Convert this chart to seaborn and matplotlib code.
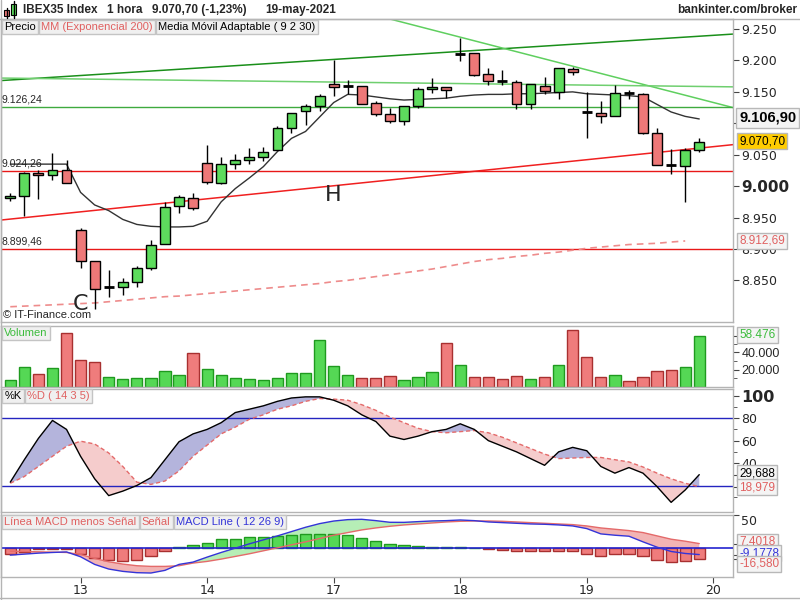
import numpy as np
import matplotlib
matplotlib.use("Agg")
import matplotlib.pyplot as plt
from matplotlib.patches import Rectangle
from matplotlib.lines import Line2D
import seaborn as sns

sns.set_style("white")
plt.rcParams['font.family'] = ['DejaVu Sans']
NARROW = ['Liberation Sans', 'DejaVu Sans']

# ---------------------------
# Data (hourly candles, 12-19 May 2021)
# ---------------------------
day_labels = ["13", "14", "17", "18", "19", "20"]
day_start = [5, 14, 23, 32, 41, 50]

opens = [8981, 8984, 9021, 9017, 9025,
         8930, 8881, 8839, 8840, 8847, 8869, 8908, 8968, 8981,
         9036, 9005, 9035, 9041, 9046, 9057, 9092, 9119, 9127,
         9163, 9159, 9160, 9133, 9115, 9104, 9128, 9155, 9158,
         9210, 9212, 9179, 9166, 9165, 9130, 9160, 9150, 9187,
         9119, 9117, 9111, 9149, 9147, 9084, 9034, 9032, 9057]
highs = [8989, 9022, 9025, 9052, 9041,
         8934, 8881, 8866, 8853, 8873, 8915, 8975, 8986, 8989,
         9066, 9046, 9051, 9060, 9062, 9095, 9117, 9130, 9147,
         9201, 9169, 9160, 9136, 9125, 9128, 9158, 9172, 9158,
         9236, 9212, 9188, 9185, 9169, 9163, 9174, 9188, 9190,
         9150, 9136, 9161, 9153, 9148, 9093, 9059, 9060, 9076]
lows = [8976, 8953, 8979, 9010, 9005,
        8870, 8804, 8824, 8826, 8839, 8867, 8908, 8957, 8962,
        9003, 9003, 9028, 9035, 9040, 9057, 9084, 9097, 9120,
        9144, 9147, 9130, 9112, 9100, 9097, 9125, 9149, 9141,
        9199, 9176, 9161, 9161, 9123, 9123, 9147, 9139, 9177,
        9076, 9101, 9111, 9139, 9083, 9033, 9019, 8975, 9054]
closes = [8984, 9021, 9017, 9025, 9005,
          8881, 8837, 8840, 8848, 8869, 8907, 8967, 8983, 8965,
          9006, 9035, 9041, 9046, 9055, 9092, 9117, 9128, 9144,
          9158, 9160, 9131, 9115, 9104, 9128, 9155, 9158, 9153,
          9211, 9177, 9168, 9167, 9130, 9163, 9152, 9188, 9182,
          9118, 9111, 9149, 9148, 9084, 9033, 9033, 9057, 9070.7]

ama = [9035, 9035, 9035, 9035, 9035,
       8990, 8970, 8961, 8947, 8939, 8936, 8935, 8935, 8936,
       8944, 8975, 8996, 9013, 9031, 9055, 9076, 9087, 9110,
       9133, 9146, 9145, 9142, 9139, 9137, 9138, 9139, 9140,
       9143, 9145, 9146, 9146, 9147, 9147, 9148, 9149, 9150,
       9147, 9146, 9145, 9144, 9142, 9130, 9118, 9111, 9106.9]
ema200 = [8808, 8809, 8810, 8811, 8812,
          8813, 8814, 8816, 8818, 8820, 8822, 8824, 8825, 8827,
          8829, 8831, 8833, 8835, 8837, 8839, 8841, 8843, 8845,
          8848, 8850, 8853, 8856, 8859, 8862, 8865, 8868, 8872,
          8876, 8880, 8883, 8885, 8888, 8890, 8893, 8895, 8898,
          8901, 8903, 8905, 8907, 8908, 8909, 8911, 8912.69]

volume = [7700, 22800, 14700, 21600, 62100,
          30900, 28600, 11200, 8900, 10100, 10100, 18100, 13500, 39000,
          20500, 13500, 10100, 8900, 7700, 10100, 15800, 15800, 54000,
          23900, 13500, 10100, 10100, 12400, 7700, 11500, 17000, 51000,
          25000, 11500, 11500, 9000, 12500, 9000, 11500, 25000, 65900,
          34700, 11200, 13500, 6600, 11200, 18100, 19300, 22800, 58476]

stoch_k = [23, 43, 62, 78, 70,
           46, 26, 11, 15, 20, 27, 43, 59, 66,
           70, 76, 85, 88, 91, 95, 98, 99, 99,
           96, 91, 83, 77, 64, 61, 64, 68, 70,
           75, 70, 60, 55, 50, 44, 38, 50, 54,
           51, 37, 31, 36, 31, 19, 5, 16, 29.688]
stoch_d = [22, 28, 37, 46, 55,
           59.5, 57, 49, 37, 23, 21, 24, 33, 46,
           56, 66, 72, 79, 83, 88, 91, 95, 97.5,
           97, 96, 92, 87, 81, 76, 71, 68, 67,
           68, 69, 67, 63, 58, 53, 48, 44, 44.5,
           45, 45, 43, 41, 36.5, 31, 26, 22, 18.979]

macd_line = [-10, -8.5, -7, -6, -5.2,
             -12.5, -24, -31, -34.5, -36.5, -37, -33, -24, -20.5,
             -13, -6, 0.5, 7, 13, 19, 25.5, 32, 37.5,
             41.4, 43.5, 44, 42, 39.5, 39.4, 40.5, 41.5, 42,
             43, 42, 40, 39, 38, 37, 36.5, 35.5, 34,
             30, 22, 20, 18.5, 10, 2, -4.5, -7.5, -9.1778]
macd_signal = [-4, -4.5, -5, -5.5, -6,
               -9, -15, -20, -23.5, -26, -27, -27, -26, -22,
               -19.5, -16, -12, -8, -3.5, 1, 5.5, 10, 15,
               20, 24, 28, 31, 33.5, 35.5, 37, 38.5, 40,
               41, 41.5, 41.5, 41, 40, 39, 38, 37, 36,
               34, 31, 29, 27, 24, 19, 14, 11, 7.4018]
macd_hist = [-7.6, -5, -1.5, -0.3, -0.3,
             -7.6, -14, -18, -18.7, -16.7, -12, -4.5, 2, 5,
             9, 13.6, 15, 16.7, 16.7, 18.7, 20.7, 21.7, 21.7,
             21.2, 19.7, 15.2, 10.6, 6.6, 5, 3.5, 2.5, 1.5,
             1.5, 0.8, -1.5, -2.5, -4.5, -4.5, -3.5, -4.5, -4.5,
             -7.6, -10.6, -9, -9, -12, -16.7, -20.2, -18.2, -16.58]

# drawn support / resistance lines (bar index, price)
green_up_x, green_up_y = [-0.66, 51.4], [9168, 9242]
green_down_x, green_down_y = [27.0, 51.4], [9266, 9125]
green_flat_x, green_flat_y = [-0.66, 51.4], [9172, 9158]
red_up_x, red_up_y = [-0.66, 51.4], [8946, 9066]
green_level = 9126.24
red_levels = [9024.26, 8899.46]

# ---------------------------
# Layout helpers (pixel coords)
# ---------------------------
W, H = 800, 600
fig = plt.figure(figsize=(8, 6), dpi=100)
renderer = fig.canvas.get_renderer()


def box(top, bottom, left=1, right=733):
    return [left / W, 1 - bottom / H, (right - left) / W, (bottom - top) / H]


def ftext(x, y, s, **kw):
    return fig.text(x / W, 1 - y / H, s, **kw)


def tag_row(y, items, x0=2, size=8):
    # chain of little grey legend boxes, one after the other
    pad = 0.2
    pad_px = pad * size * 100 / 72
    xpos = x0 + pad_px
    for s, col in items:
        t = ftext(xpos, y, s, color=col, fontsize=size, family=NARROW, va='center', ha='left',
                  bbox=dict(boxstyle=f'square,pad={pad}', fc='#f0f0f0', ec='#c4c4c4', lw=1))
        bb = t.get_window_extent(renderer=renderer)
        xpos = bb.x1 + 2 * pad_px + 1


def valbox(y, s, color='black', fc='#f4f4f4', size=8, weight='normal'):
    ftext(739, y, s, color=color, fontsize=size, fontweight=weight, family=NARROW,
          va='center', ha='left',
          bbox=dict(boxstyle='square,pad=0.2', fc=fc, ec='#b8b8b8', lw=1), zorder=10)


ax_p = fig.add_axes(box(19, 322))
ax_v = fig.add_axes(box(326, 387), sharex=ax_p)
ax_s = fig.add_axes(box(389, 512), sharex=ax_p)
ax_m = fig.add_axes(box(515, 577), sharex=ax_p)

for ax in (ax_p, ax_v, ax_s, ax_m):
    for sp in ax.spines.values():
        sp.set_color('#b4b4b4')
        sp.set_linewidth(1)
    ax.yaxis.tick_right()
    ax.tick_params(axis='y', which='both', right=True, left=False, labelright=True,
                   labelleft=False, length=4, color='#444444', labelsize=9, pad=2)
    ax.tick_params(axis='y', which='minor', length=3)
    ax.tick_params(axis='x', which='both', bottom=False, labelbottom=False)

x = np.arange(len(closes))
o = np.array(opens, float)
c = np.array(closes, float)
hi = np.array(highs, float)
lo = np.array(lows, float)

# ---------------------------
# Price panel
# ---------------------------
ax_p.set_xlim(-0.66, 51.4)
ax_p.set_ylim(8783.7, 9266)

ax_p.plot(green_up_x, green_up_y, color='#1a8f1a', lw=1.1, zorder=1)
ax_p.plot(green_down_x, green_down_y, color='#5fcf5f', lw=1.1, zorder=1)
ax_p.plot(green_flat_x, green_flat_y, color='#6fcf6f', lw=1.1, zorder=1)
ax_p.axhline(green_level, color='#3faa3f', lw=1, zorder=1)
ax_p.plot(red_up_x, red_up_y, color='#f02020', lw=1.1, zorder=1)
for lv in red_levels:
    ax_p.axhline(lv, color='#e81818', lw=1, zorder=1)

sns.lineplot(x=np.arange(len(ema200)), y=ema200, ax=ax_p, color='#ee8c8c',
             lw=1.2, linestyle=(0, (4, 3)), zorder=2)
sns.lineplot(x=x, y=ama, ax=ax_p, color='#333333', lw=1, zorder=2)

ax_p.vlines(x, lo, hi, color='black', lw=1, zorder=3)
body = np.abs(c - o)
doji = body < 2
up = c >= o
cols = np.where(up, '#5ddc5d', '#ee7878')
ax_p.bar(x[~doji], body[~doji], bottom=np.minimum(o, c)[~doji], width=0.7,
         color=cols[~doji], edgecolor='black', linewidth=1, zorder=4)
ax_p.hlines(c[doji], x[doji] - 0.35, x[doji] + 0.35, color='black', lw=2, zorder=4)

ax_p.set_yticks([9250, 9200, 9150, 9100, 9050, 9000, 8950, 8900, 8850])
ax_p.set_yticklabels(['9.250', '9.200', '9.150', '', '9.050', '9.000',
                      '8.950', '8.900', '8.850'])
for lab in ax_p.get_yticklabels():
    if lab.get_text() == '9.000':
        lab.set_fontweight('bold')
        lab.set_fontsize(11)

ftext(1, 100, '9.126,24', fontsize=7.5, family=NARROW, va='center')
ftext(1, 164, '9.024,26', fontsize=7.5, family=NARROW, va='center')
ftext(1, 242, '8.899,46', fontsize=7.5, family=NARROW, va='center')
ftext(333, 195, 'H', fontsize=16, ha='center', va='center')
ftext(80, 304, 'C', fontsize=16, ha='center', va='center')
ftext(3, 315, '© IT-Finance.com', fontsize=8, family=NARROW, va='center')

tag_row(27, [('Precio', 'black'), ('MM (Exponencial 200)', '#e06060'),
             ('Media Móvil Adaptable ( 9 2 30)', 'black')])

valbox(118, '9.106,90', size=10.5, weight='bold')
valbox(141, '9.070,70', fc='#ffcc00', size=8.5)
valbox(241, '8.912,69', color='#e06060', size=8.5)

# ---------------------------
# Volume panel
# ---------------------------
vol_up = np.r_[True, c[1:] > c[:-1]]
ax_v.bar(x, volume, width=0.8, color=np.where(vol_up, '#55d855', '#ef7c7c'),
         edgecolor=np.where(vol_up, '#1f9a1f', '#a83030'), linewidth=1, zorder=2)
ax_v.set_ylim(0, 70500)
ax_v.set_yticks([40000, 20000, 58476])
ax_v.set_yticklabels(['40.000', '20.000', ''])
ax_v.set_yticks([10000, 30000, 50000], minor=True)
for lab in ax_v.get_yticklabels():
    lab.set_family(NARROW)
    lab.set_fontsize(9)
tag_row(333, [('Volumen', '#3cbc3c')])
valbox(335, '58.476', color='#3cbc3c', size=8.5)

# ---------------------------
# Stochastic panel
# ---------------------------
k = np.array(stoch_k, float)
d = np.array(stoch_d, float)
ax_s.set_ylim(-3.6, 106)
ax_s.fill_between(x, k, d, where=k >= d, interpolate=True, color='#b4b4dc', lw=0, zorder=1)
ax_s.fill_between(x, k, d, where=k < d, interpolate=True, color='#f5cccc', lw=0, zorder=1)
ax_s.axhline(80, color='#2424c0', lw=1, zorder=2)
ax_s.axhline(20, color='#2424c0', lw=1, zorder=2)
sns.lineplot(x=x, y=d, ax=ax_s, color='#e46a6a', lw=1, linestyle=(0, (3, 2)), zorder=3)
sns.lineplot(x=x, y=k, ax=ax_s, color='black', lw=1, zorder=4)
ax_s.set_yticks([100, 80, 60, 40, 29.688, 18.979])
ax_s.set_yticklabels(['100', '80', '60', '40', '', ''])
ax_s.set_yticks([90, 70, 50, 10], minor=True)
for lab in ax_s.get_yticklabels():
    if lab.get_text() == '100':
        lab.set_fontweight('bold')
        lab.set_fontsize(11.5)
tag_row(396, [('%K', 'black'), ('%D ( 14 3 5)', '#e06060')])
valbox(473, '29,688', size=8.5)
valbox(487, '18,979', color='#e06060', size=8.5)

# ---------------------------
# MACD panel
# ---------------------------
ml = np.array(macd_line, float)
sg = np.array(macd_signal, float)
hv = np.array(macd_hist, float)
ax_m.set_ylim(-43, 50.5)
ax_m.fill_between(x, ml, sg, where=ml >= sg, interpolate=True, color='#b6eeb6', lw=0, zorder=1)
ax_m.fill_between(x, ml, sg, where=ml < sg, interpolate=True, color='#f2b4b4', lw=0, zorder=1)
ax_m.bar(x, hv, width=0.8, color=np.where(hv >= 0, '#55d855', '#ef7c7c'),
         edgecolor=np.where(hv >= 0, '#1f9a1f', '#a83030'), linewidth=1, zorder=2)
ax_m.axhline(0, color='#2424d0', lw=1.2, zorder=3)
sns.lineplot(x=x, y=sg, ax=ax_m, color='#e46a6a', lw=1, zorder=4)
sns.lineplot(x=x, y=ml, ax=ax_m, color='#3434d8', lw=1, zorder=5)
ax_m.set_yticks([50, 7.4018, -9.1778, -16.58])
ax_m.set_yticklabels(['50', '', '', ''])
for lab in ax_m.get_yticklabels():
    lab.set_va('top')
tag_row(522, [('Línea MACD menos Señal', '#e06060'), ('Señal', '#e06060'),
              ('MACD Line ( 12 26 9)', '#3434d8')])
valbox(542, '7,4018', color='#e06060', size=8.5)
valbox(553, '-9,1778', color='#3434d8', size=8.5)
valbox(564, '-16,580', color='#e06060', size=8.5)

ax_m.set_xticks(day_start)
ax_m.set_xticklabels(day_labels)
ax_m.tick_params(axis='x', which='major', bottom=True, labelbottom=True, length=4,
                 color='#444444', labelsize=9, pad=1)

# ---------------------------
# Header + frame
# ---------------------------
fig.add_artist(Line2D([0, 1], [1 - 19 / H, 1 - 19 / H], color='#b4b4b4', lw=1))
fig.add_artist(Line2D([0, 1], [1 - 598 / H, 1 - 598 / H], color='#b4b4b4', lw=1))
fig.add_artist(Line2D([0.5 / W, 0.5 / W], [0, 1], color='#b4b4b4', lw=1))

# small candle icon
fig.add_artist(Line2D([6.5 / W, 6.5 / W], [1 - 18 / H, 1 - 8 / H], color='black', lw=1))
fig.add_artist(Rectangle((4 / W, 1 - 16 / H), 5 / W, 6 / H, fc='#ee7878', ec='black', lw=0.8))
fig.add_artist(Line2D([13.5 / W, 13.5 / W], [1 - 18 / H, 1 - 1 / H], color='black', lw=1))
fig.add_artist(Rectangle((11 / W, 1 - 15 / H), 5 / W, 11 / H, fc='#5ddc5d', ec='black', lw=0.8))

for xp, s in [(23, 'IBEX35 Index'), (107, '1 hora'), (152, '9.070,70 (-1,23%)'),
              (265, '19-may-2021')]:
    ftext(xp, 10, s, fontsize=8.5, fontweight='bold', family=NARROW, va='center')
ftext(797, 10, 'bankinter.com/broker', fontsize=8.5, fontweight='bold', family=NARROW,
      va='center', ha='right')

fig.savefig('out.png', dpi=100)
